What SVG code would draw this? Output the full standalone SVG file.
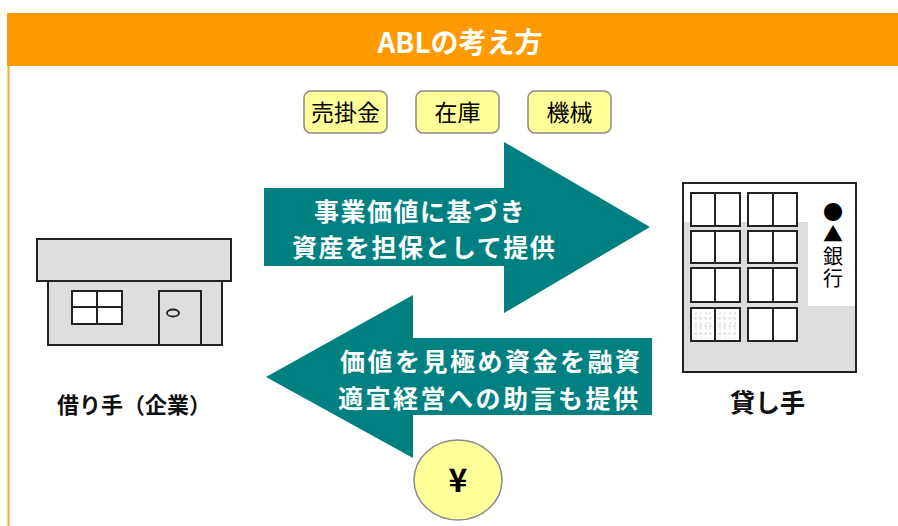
<svg xmlns="http://www.w3.org/2000/svg" width="898" height="526" viewBox="0 0 898 526">
  <style>
    .jp { font-family: "Noto Sans CJK JP", "Noto Sans", sans-serif; }
    .pill { fill: #FFFF99; stroke: #8A8A8A; stroke-width: 1.5; }
    .pill-t { font-size: 23px; fill: #000; text-anchor: middle; }
    .arrow { fill: #008080; }
    .arrow-t { font-size: 25px; font-weight: bold; fill: #fff; }
    .bld { fill: #DDDDDD; stroke: #222; stroke-width: 2; }
    .pane { fill: #fff; stroke: #222; stroke-width: 2; }
    .label { font-weight: bold; fill: #111; }
  </style>

  <rect width="898" height="526" fill="#fff"/>

  <!-- header bar -->
  <g id="header">
    <rect x="7" y="13" width="891" height="53" fill="#FF9900"/>
    <line x1="8.5" y1="66" x2="8.5" y2="526" stroke="#FFAA33" stroke-width="2"/>
    <text class="jp" x="460" y="53" font-size="28" font-weight="bold" fill="#fff" text-anchor="middle">ABLの考え方</text>
  </g>

  <!-- asset tags -->
  <g id="tag-receivables">
    <rect class="pill" x="304" y="91" width="83" height="42" rx="7"/>
    <text class="jp pill-t" x="345.5" y="121">売掛金</text>
  </g>
  <g id="tag-inventory">
    <rect class="pill" x="416" y="91" width="83" height="42" rx="7"/>
    <text class="jp pill-t" x="457.5" y="121">在庫</text>
  </g>
  <g id="tag-machinery">
    <rect class="pill" x="528" y="91" width="83" height="42" rx="7"/>
    <text class="jp pill-t" x="569.5" y="121">機械</text>
  </g>

  <!-- connectors: flow arrows between borrower and lender -->
  <g id="connectors">
    <g id="arrow-collateral">
      <polygon class="arrow" points="264,188 504,188 504,142 650,227 504,313 504,266 264,266"/>
      <text class="jp arrow-t" x="314" y="221" letter-spacing="1.5">事業価値に基づき</text>
      <text class="jp arrow-t" x="292" y="257" letter-spacing="1.5">資産を担保として提供</text>
    </g>
    <g id="arrow-financing">
      <polygon class="arrow" points="652,338 413,338 413,295 266,377 413,458 413,415 652,415"/>
      <text class="jp arrow-t" x="340" y="371" letter-spacing="2.5">価値を見極め資金を融資</text>
      <text class="jp arrow-t" x="338" y="408" letter-spacing="2.5">適宜経営への助言も提供</text>
    </g>
  </g>

  <!-- money -->
  <g id="yen">
    <ellipse cx="458" cy="480" rx="44" ry="40" fill="#FFFF99" stroke="#8A8A8A" stroke-width="1.5"/>
    <text class="jp" x="458" y="492" font-size="32" font-weight="bold" fill="#000" text-anchor="middle">¥</text>
  </g>

  <!-- borrower: company shop -->
  <g id="borrower">
    <rect class="bld" x="48" y="281" width="174" height="64"/>
    <rect class="bld" x="37" y="239" width="194" height="42"/>
    <rect class="pane" x="72" y="291" width="50" height="33"/>
    <line x1="97" y1="291" x2="97" y2="324" stroke="#222" stroke-width="2"/>
    <line x1="72" y1="307" x2="122" y2="307" stroke="#222" stroke-width="2"/>
    <rect class="bld" x="159" y="291" width="42" height="54"/>
    <ellipse cx="173" cy="313" rx="6" ry="3.5" fill="#DDDDDD" stroke="#222" stroke-width="1.8"/>
    <text class="jp label" x="57" y="413" font-size="22">借り手（企業）</text>
  </g>

  <!-- lender: bank building -->
  <g id="lender">
    <rect x="683" y="183" width="173" height="189" fill="#DDDDDD"/>
    <rect x="683" y="183" width="125" height="39" fill="#fff"/>
    <rect x="808" y="183" width="48" height="123" fill="#fff"/>
    <rect x="683" y="183" width="173" height="189" fill="none" stroke="#222" stroke-width="2"/>
    <g id="windows">
      <rect class="pane" x="691" y="193" width="24" height="33"/><rect class="pane" x="715" y="193" width="25" height="33"/>
      <rect class="pane" x="748" y="193" width="25" height="33"/><rect class="pane" x="773" y="193" width="24" height="33"/>
      <rect class="pane" x="691" y="231" width="24" height="32"/><rect class="pane" x="715" y="231" width="25" height="32"/>
      <rect class="pane" x="748" y="231" width="25" height="32"/><rect class="pane" x="773" y="231" width="24" height="32"/>
      <rect class="pane" x="691" y="268" width="24" height="34"/><rect class="pane" x="715" y="268" width="25" height="34"/>
      <rect class="pane" x="748" y="268" width="25" height="34"/><rect class="pane" x="773" y="268" width="24" height="34"/>
      <rect class="pane" x="691" y="308" width="24" height="33"/><rect class="pane" x="715" y="308" width="25" height="33"/>
      <rect class="pane" x="748" y="308" width="25" height="33"/><rect class="pane" x="773" y="308" width="24" height="33"/>
      <!-- faint reflections on lower-left panes -->
      <g stroke="#E2E2E2" stroke-width="1.5" stroke-dasharray="3 2" fill="none">
        <path d="M696 312v26M701 312v26M706 312v26M710 312v26M720 312v26M725 312v26M730 312v26M735 312v26"/>
        <path d="M694 318h19M694 326h19M694 334h19M718 318h19M718 326h19M718 334h19"/>
      </g>
    </g>
    <!-- vertical bank sign -->
    <text class="jp" x="833" y="202" font-size="20" fill="#000" writing-mode="vertical-rl" letter-spacing="2">●▲銀行</text>
    <text class="jp label" x="730" y="412" font-size="25">貸し手</text>
  </g>
</svg>
